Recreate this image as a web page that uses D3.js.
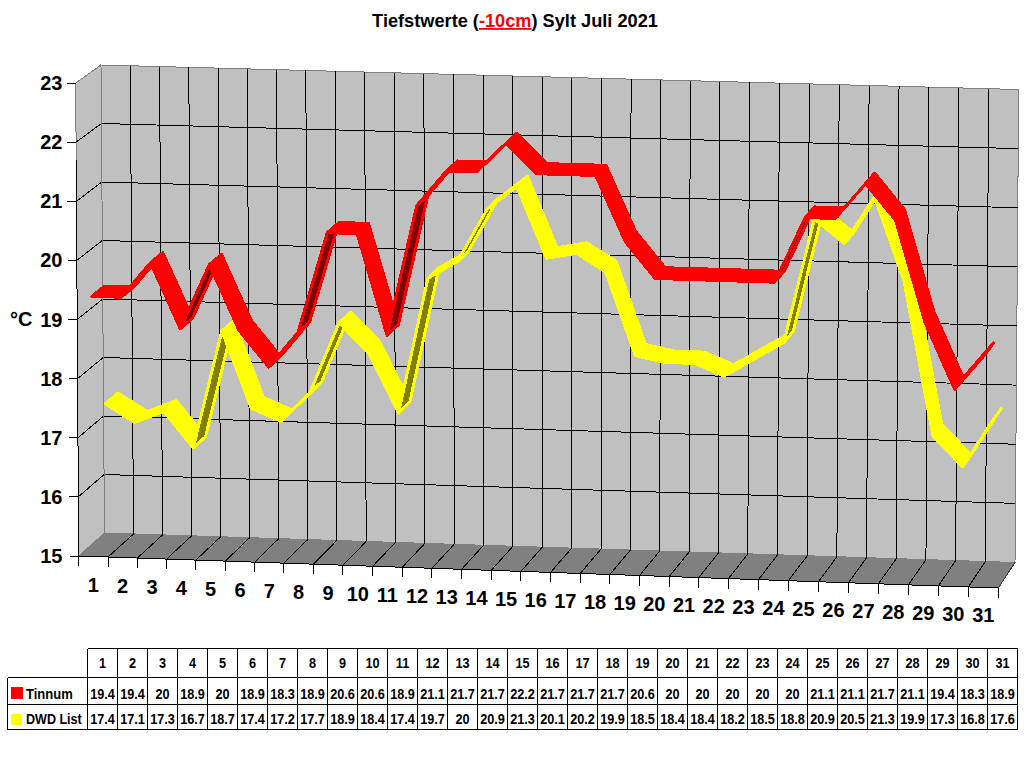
<!DOCTYPE html>
<html>
<head>
<meta charset="utf-8">
<script src="https://cdnjs.cloudflare.com/ajax/libs/d3/7.8.5/d3.min.js"></script>
<style>
html, body { margin: 0; padding: 0; background: #fff; }
svg { display: block; }
text { font-family: "Liberation Sans", Arial, sans-serif; font-weight: bold; fill: #000; }
.cell { font-size: 15.5px; }
</style>
</head>
<body>
<svg id="chart" width="1024" height="768"></svg>
<script>
// Daily minimum temperatures, July 2021
const days = d3.range(1, 32);
const tinnum = [19.4,19.4,20,18.9,20,18.9,18.3,18.9,20.6,20.6,18.9,21.1,21.7,21.7,22.2,21.7,21.7,21.7,20.6,20,20,20,20,20,21.1,21.1,21.7,21.1,19.4,18.3,18.9];
const dwdList = [17.4,17.1,17.3,16.7,18.7,17.4,17.2,17.7,18.9,18.4,17.4,19.7,20,20.9,21.3,20.1,20.2,19.9,18.5,18.4,18.4,18.2,18.5,18.8,20.9,20.5,21.3,19.9,17.3,16.8,17.6];
const yTicks = [15,16,17,18,19,20,21,22,23];
const seriesNames = ["Tinnum", "DWD List"];

const svg = d3.select("#chart");

// Corners of the 3D plot box on screen
const box = {
  frontBottomLeft: [78.7, 556], frontBottomRight: [998.3, 588],
  frontTopLeft: [75.7, 83],     frontTopRight: [1002, 110],
  backBottomLeft: [104.5, 533], backBottomRight: [1015, 562.5],
  backTopLeft: [101, 65],       backTopRight: [1018.7, 89.5]
};

// Day positions are very slightly foreshortened towards the left
const uScale = d3.scaleLinear().domain([0, 8, 22, 31]).range([0, 0.2551, 0.7066, 1]);
const vScale = d3.scaleLinear().domain([15, 23]).range([0, 1]);

const mix = (a, b, k) => [a[0] + (b[0] - a[0]) * k, a[1] + (b[1] - a[1]) * k];

// u: category edge 0..31, v: temperature, w: 0 front .. 1 back
function project(u, v, w) {
  const t = uScale(u), s = vScale(v);
  const front = mix(mix(box.frontBottomLeft, box.frontBottomRight, t), mix(box.frontTopLeft, box.frontTopRight, t), s);
  const back = mix(mix(box.backBottomLeft, box.backBottomRight, t), mix(box.backTopLeft, box.backTopRight, t), s);
  return mix(front, back, w);
}

const path = d3.line();
const closed = d3.line().curve(d3.curveLinearClosed);
const plot = svg.append("g").attr("shape-rendering", "crispEdges");

// Walls and floor
plot.append("path").attr("fill", "#c0c0c0").attr("stroke", "#808080")
  .attr("d", closed([project(0,15,0), project(0,23,0), project(0,23,1), project(0,15,1)]));
plot.append("path").attr("fill", "#c0c0c0").attr("stroke", "#808080")
  .attr("d", closed([project(0,15,1), project(0,23,1), project(31,23,1), project(31,15,1)]));
plot.append("path").attr("fill", "#808080").attr("stroke", "#808080")
  .attr("d", closed([project(0,15,0), project(0,15,1), project(31,15,1), project(31,15,0)]));

const line = (pts, color, width) => plot.append("path")
  .attr("fill", "none").attr("stroke", color || "#000").attr("stroke-width", width || 1)
  .attr("d", path(pts));

// Gridlines on the walls and floor
d3.range(16, 23).forEach(v => {
  line([project(0, v, 0), project(0, v, 1), project(31, v, 1)]);
});
d3.range(1, 31).forEach(u => {
  line([project(u, 15, 1), project(u, 23, 1)]);
  line([project(u, 15, 0), project(u, 15, 1)]);
});
line([project(31, 15, 0), project(31, 15, 1)], "#404040");
line([project(0, 15, 0), project(0, 21.7, 0)]);
line([project(0, 15, 1), project(0, 23, 1)], "#808080");
line([project(0, 15, 0), project(31, 15, 0)]);

// Axis ticks
yTicks.forEach(v => {
  const p = project(0, v, 0);
  line([[p[0] - 9, p[1]], p]);
});
d3.range(0, 32).forEach(u => {
  const p = project(u, 15, 0);
  line([p, [p[0], p[1] + 10]]);
});

// Ribbons: each series takes half of the box depth, the rear one painted first
function ribbon(values, color, dark, wFront, wBack) {
  const g = plot.append("g");
  for (let i = 0; i < values.length - 1; i++) {
    const a0 = project(i + 0.5, values[i], wFront);
    const b0 = project(i + 1.5, values[i + 1], wFront);
    const b1 = project(i + 1.5, values[i + 1], wBack);
    const a1 = project(i + 0.5, values[i], wBack);
    // The underside shows when the segment climbs steeper than the view angle
    const cross = (b0[0] - a0[0]) * (a1[1] - a0[1]) - (b0[1] - a0[1]) * (a1[0] - a0[0]);
    g.append("path")
      .attr("fill", cross > 0 ? dark : color)
      .attr("stroke", color).attr("stroke-width", 3).attr("stroke-linejoin", "round")
      .attr("d", closed([a0, b0, b1, a1]));
  }
}
ribbon(dwdList, "#ffff00", "#808000", 0.5, 1);
ribbon(tinnum, "#ff0000", "#800000", 0, 0.5);

// Title
const title = svg.append("text").attr("x", 515).attr("y", 27).attr("text-anchor", "middle").style("font-size", "18.2px");
title.append("tspan").text("Tiefstwerte (");
title.append("tspan").style("fill", "#ff0000").style("text-decoration", "underline")
  .style("text-decoration-thickness", "2px").text("-10cm");
title.append("tspan").text(") Sylt Juli 2021");

// Axis labels
yTicks.forEach(v => {
  svg.append("text").attr("x", 62.5).attr("y", project(0, v, 0)[1] + 7)
    .attr("text-anchor", "end").style("font-size", "20px").text(v);
});
days.forEach((d, i) => {
  const p = project(i + 0.5, 15, 0);
  svg.append("text").attr("x", p[0]).attr("y", p[1] + 35)
    .attr("text-anchor", "middle").style("font-size", "20px").text(d);
});
svg.append("text").attr("x", 10).attr("y", 326).style("font-size", "20px").text("°C");

// Data table under the plot
const colX = d3.scaleLinear().domain([0, 31]).range([87.5, 1017.5]);
const rowEdges = [648.5, 677.5, 704.5, 729.5];
const tableLeft = 7.5;
const grid = svg.append("g").attr("stroke", "#000").attr("stroke-width", 1).attr("shape-rendering", "crispEdges");
const tableLine = (x1, y1, x2, y2) => grid.append("line").attr("x1", x1).attr("y1", y1).attr("x2", x2).attr("y2", y2);
tableLine(colX(0), rowEdges[0], colX(31), rowEdges[0]);
rowEdges.slice(1).forEach(y => tableLine(tableLeft, y, colX(31), y));
tableLine(tableLeft, rowEdges[1], tableLeft, rowEdges[3]);
days.concat([0]).forEach(d => tableLine(colX(d), rowEdges[0], colX(d), rowEdges[3]));

// Table text is a condensed bold face, narrowed horizontally
const narrow = 0.82;
const cell = (x, y, s, anchor, k) => svg.append("text").attr("class", "cell")
  .attr("transform", `translate(${x},${y}) scale(${k || narrow},1)`)
  .attr("text-anchor", anchor || "middle").text(s);
days.forEach((d, i) => {
  const x = colX(i + 0.5);
  cell(x, 668, d);
  cell(x, 698.5, tinnum[i]);
  cell(x, 724, dwdList[i]);
});

svg.append("rect").attr("x", 11).attr("y", 687).attr("width", 12).attr("height", 12).attr("fill", "#ff0000");
svg.append("rect").attr("x", 11).attr("y", 714).attr("width", 11).attr("height", 11).attr("fill", "#ffff00");
cell(26, 698.5, seriesNames[0], "start", 0.84);
cell(26, 724, seriesNames[1], "start", 0.81);
</script>
</body>
</html>
